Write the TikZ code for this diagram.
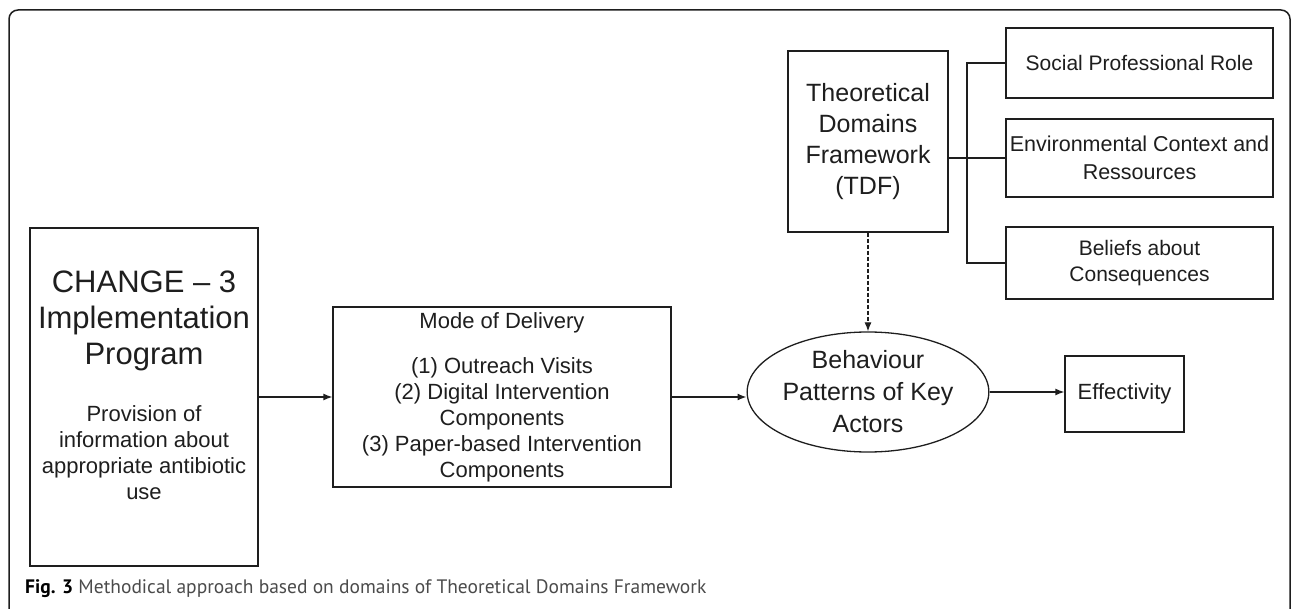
\documentclass[tikz,border=0pt]{standalone}
\usepackage{fontspec}
\setmainfont{Liberation Sans}
\newfontfamily\capfont{PT Sans}
\usetikzlibrary{arrows.meta,shapes.geometric}
\newcommand{\fsz}[2]{\fontsize{#1}{#2}\selectfont}
\definecolor{ink}{HTML}{1E1E1E}
\tikzset{
  box/.style={draw=ink, line width=1.3pt, rectangle, inner sep=0pt, text=ink, align=center},
  conn/.style={draw=ink, line width=1.3pt},
  arr/.style={conn, -{Latex[length=9pt,width=7pt]}},
  dasharr/.style={draw=ink, line width=1.1pt, dash pattern=on 4pt off 2pt, -{Latex[length=9pt,width=7pt]}},
  lbl/.style={text=ink, align=center, inner sep=0pt},
  framebox/.style={draw=ink, line width=1.5pt, rounded corners=9pt}
}
\begin{document}
\begin{tikzpicture}[x=1pt,y=-1pt]
\useasboundingbox (0,0) rectangle (1292,609);
\draw[framebox] (9,650) -- (9,10) -- (1290,10) -- (1290,650);

% left program box
\node[box, minimum width=228pt, minimum height=338pt] (change) at (144,397) {};
\node[lbl, font=\fsz{31}{36}] (changeT) at (144,321) {CHANGE – 3\\Implementation\\Program};
\node[lbl, font=\fsz{22}{26}] (changeS) at (144,453) {Provision of\\information about\\appropriate antibiotic\\use};

% mode of delivery
\node[box, minimum width=338pt, minimum height=180pt, font=\fsz{22}{26}] (mode) at (502,397)
  {Mode of Delivery\\[19pt](1) Outreach Visits\\(2) Digital Intervention\\Components\\(3) Paper-based Intervention\\Components};

% ellipse
\node[draw=ink, line width=1.3pt, ellipse, minimum width=216pt, minimum height=120pt, inner sep=0pt,
      text=ink, align=center, font=\fsz{25}{32}] (ell) at (868,392) {Behaviour\\Patterns of Key\\Actors};

% effectivity
\node[box, minimum width=119pt, minimum height=76pt, font=\fsz{22}{26}] (eff) at (1124.5,394) {Effectivity};

% TDF
\node[box, minimum width=160pt, minimum height=181pt, font=\fsz{25}{31.3}] (tdf) at (868,141.5)
  {Theoretical\\Domains\\Framework\\(TDF)};

% domain boxes
\node[box, minimum width=267pt, minimum height=70pt, font=\fsz{21}{26}] (soc) at (1139.5,63) {Social Professional Role};
\node[box, minimum width=267pt, minimum height=78pt, font=\fsz{21.5}{28}] (env) at (1139.5,158) {Environmental Context and\\Ressources};
\node[box, minimum width=267pt, minimum height=72pt, font=\fsz{21}{26}] (bel) at (1139.5,263) {Beliefs about\\Consequences};

\coordinate (bx) at (967,0);

% connectors
\draw[arr] (change.east) -- (mode.west);
\draw[arr] (mode.east) -- (mode.east -| ell.west);
\draw[arr] (ell.east) -- (ell.east -| eff.west);
\draw[dasharr] (tdf.south) -- (ell.north);
\draw[conn] (env.west -| tdf.east) -- (env.west);
\draw[conn] (soc.west) -- (soc.west -| bx) -- (bel.west -| bx) -- (bel.west);

% caption
\node[anchor=base west, inner sep=0pt, font=\capfont\fsz{19.5}{24}, text=ink!80] (cap) at (25,593)
  {\textbf{\color{black}Fig. 3} Methodical approach based on domains of Theoretical Domains Framework};
\end{tikzpicture}
\end{document}
